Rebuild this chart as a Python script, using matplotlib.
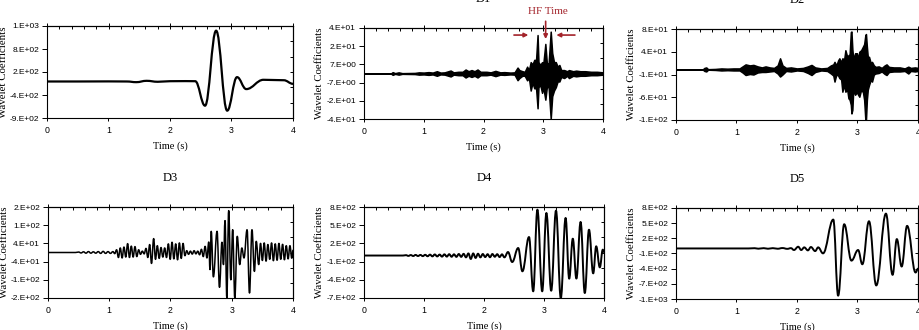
import matplotlib
matplotlib.use('Agg')
import matplotlib.pyplot as plt
from matplotlib.path import Path
from matplotlib.patches import PathPatch
from matplotlib.ticker import MultipleLocator
import numpy as np

# ---- data (time in s, coefficient in axis units) ----

# A5: turning points of the smooth approximation signal
a5_t = [0.0, 0.5, 1.0, 1.3, 1.45, 1.62, 1.8, 2.0, 2.25, 2.41, 2.57, 2.75, 2.93,
        3.09, 3.24, 3.52, 3.85, 4.0]
a5_v = [-146, -146, -144, -146, -160, -132, -152, -140, -138, -140, -646, 904, -749,
        -56, -303, -111, -120, -194]

# D1: envelope of the high frequency detail (time, upper, lower)
d1_t = [0.0, 0.45, 0.48, 0.52, 0.58, 0.64, 0.85, 0.92, 1.0, 1.08, 1.15, 1.22, 1.28,
        1.35, 1.45, 1.5, 1.58, 1.65, 1.7, 1.75, 1.8, 1.85, 1.9, 1.95, 2.05, 2.12,
        2.2, 2.28, 2.35, 2.45, 2.52, 2.57, 2.6, 2.65, 2.69, 2.73, 2.76, 2.79, 2.82,
        2.85, 2.88, 2.905, 2.92, 2.95, 2.98, 3.0, 3.035, 3.06, 3.09, 3.125, 3.15,
        3.18, 3.21, 3.24, 3.27, 3.3, 3.35, 3.4, 3.43, 3.5, 3.55, 3.62, 3.7, 3.8,
        3.9, 4.0]
d1_hi = [0, 0, 1.2, 0.3, 1, 0.3, 0.5, 1, 0.8, 1.2, 0.8, 2, 0.8,
         1, 2.6, 1, 1.5, 1.5, 3.5, 2, 3, 2, 3.5, 1.5, 1.5, 1,
         2.3, 1, 1.2, 0.8, 1, 5.2, 3, 2, 1.5, 6, 3, 10, 8,
         12, 12, 33.8, 10, 7.5, 10, 8, 26, 9, 9, 36.8, 18,
         10, 10, 6, 7.5, 3, 3, 2, 3, 2, 2.5, 2, 2, 1.5,
         1.5, 1]
d1_lo = [0, 0, -1.2, -0.3, -1, -0.3, -0.5, -1, -0.8, -1.2, -0.8, -2, -0.8,
         -1, -2.6, -1, -1.5, -1.5, -3.5, -2, -3, -2, -3.5, -1.5, -1.5, -1,
         -2.3, -1, -1.2, -0.8, -1, -5.9, -4, -2, -2, -6, -4, -15, -8,
         -13, -13, -30.6, -12, -10, -17, -12, -23, -12, -12, -40, -20,
         -15, -12, -7, -7, -3, -4, -2, -4, -2, -2.5, -2, -2, -1.5,
         -1.5, -1]

# D2: envelope of the second detail level
d2_t = [0.0, 0.44, 0.47, 0.5, 0.53, 0.65, 0.75, 0.85, 0.95, 1.05, 1.1, 1.15, 1.22,
        1.28, 1.35, 1.42, 1.48, 1.55, 1.62, 1.68, 1.72, 1.76, 1.82, 1.9, 2.0, 2.1,
        2.18, 2.24, 2.3, 2.4, 2.5, 2.56, 2.6, 2.62, 2.65, 2.68, 2.7, 2.73, 2.75,
        2.78, 2.8, 2.83, 2.85, 2.87, 2.89, 2.9, 2.915, 2.93, 2.96, 2.99, 3.01,
        3.03, 3.06, 3.09, 3.11, 3.13, 3.14, 3.155, 3.17, 3.19, 3.22, 3.24, 3.27,
        3.3, 3.35, 3.4, 3.45, 3.48, 3.52, 3.6, 3.7, 3.78, 3.84, 3.88, 3.95, 4.0]
d2_hi = [0, 0, 3, 4, 0.5, 1, 2, 1.5, 2, 2, 6, 10, 8,
         9, 6, 4, 6, 4, 3, 8, 22, 8, 3, 4, 2, 3,
         6, 9, 4, 2, 3, 8, 10, 15, 8, 18, 22, 14, 22,
         20, 38, 25, 28, 30, 74, 75, 40, 20, 32, 32, 20,
         35, 38, 45, 50, 68, 70, 45, 25, 25, 12, 15, 8,
         5, 6, 3, 8, 10, 5, 4, 4, 2, 5.5, 3, 4, 3]
d2_lo = [0, 0, -3, -4, -0.5, -1, -2, -1.5, -2, -2, -6, -11, -9,
         -10, -6, -5, -5, -4, -3, -8, -14, -10, -3, -4, -2, -3,
         -7, -11, -5, -2, -3, -8, -12, -24, -10, -12, -17, -20, -44,
         -30, -44, -40, -57, -60, -70, -87, -80, -40, -50, -45, -50,
         -54, -40, -45, -60, -100, -100, -60, -40, -31, -20, -24, -10,
         -8, -7, -4, -9, -11, -5, -4, -4, -3, -8, -3, -4, -3]

# D3: turning points
d3_t = [0.0, 0.45, 0.50, 0.54, 0.58, 0.62, 0.66, 0.70, 0.74, 0.78, 0.82, 0.86, 0.90,
        0.94, 0.98, 1.02, 1.06, 1.09,
        1.12, 1.15, 1.18, 1.21, 1.24, 1.27, 1.30, 1.33, 1.36, 1.39, 1.42, 1.45, 1.48, 1.51,
        1.54, 1.57, 1.60, 1.63, 1.66, 1.69, 1.725, 1.755, 1.785, 1.815, 1.845, 1.875,
        1.905, 1.935,
        1.965, 1.995, 2.025, 2.055, 2.085, 2.115, 2.145, 2.175, 2.205, 2.235,
        2.265, 2.295, 2.325, 2.355, 2.385, 2.415, 2.445, 2.475, 2.505,
        2.535, 2.565, 2.595, 2.625, 2.645,
        2.665, 2.70, 2.76, 2.80, 2.84, 2.865, 2.89, 2.92, 2.95, 2.985, 3.015, 3.05,
        3.09, 3.13, 3.165, 3.20, 3.25, 3.29, 3.33, 3.37, 3.40, 3.44,
        3.47, 3.50, 3.53, 3.56, 3.59, 3.62, 3.65, 3.68, 3.71, 3.74, 3.77, 3.80,
        3.83, 3.86, 3.89, 3.92, 3.95, 3.98, 4.0]
d3_v = [0, 0, 2, -2, 3, -3, 4, -3, 3, -3, 4, -4, 5,
        -4, 4, -4, 4, -5,
        12, -22, 20, -24, 24, -20, 39, -22, 28, -20, 26, -18, 12, -8,
        6, -6, 18, -22, 35, -48, 61, -30, 30, -26, 22, -20,
        20, -22,
        38, -30, 45, -28, 38, -32, 42, -26, 40, -14,
        8, -8, 6, -7, 8, -6, 6, -10, 14,
        -18, 27, -24, 46, -75,
        93, -107, 93, -153, 45, -53, 140, -200, 184, -120, 100, -200,
        71, -53, 20, -24, 100, -178, 100, -83, 49, -53,
        40, -35, 42, -38, 35, -30, 42, -36, 38, -34, 40, -30,
        36, -32, 30, -28, 30, -25, 10]

# D4: turning points
d4_t = [0.0, 0.65, 0.70, 0.74, 0.78, 0.82, 0.86, 0.90, 0.94, 0.98, 1.02, 1.06, 1.10,
        1.14, 1.18, 1.22, 1.26, 1.30, 1.34, 1.38, 1.42, 1.46, 1.50, 1.54, 1.58, 1.62,
        1.66, 1.70, 1.74, 1.78, 1.82, 1.86, 1.90, 1.94, 1.98, 2.02, 2.06, 2.10, 2.14,
        2.18, 2.22, 2.26, 2.30, 2.34,
        2.40, 2.47, 2.57, 2.64, 2.75, 2.82, 2.89, 2.97, 3.04, 3.12, 3.20, 3.28, 3.36,
        3.42, 3.48, 3.54, 3.61, 3.68, 3.75, 3.82, 3.87, 3.93, 3.98, 4.0]
d4_v = [0, 0, 6, -6, 8, -8, 10, -8, 10, -10, 12, -12, 15,
        -14, 18, -15, 16, -18, 20, -18, 22, -20, 20, -22, 25, -22,
        28, -30, 35, -57, 35, -40, 30, -30, 25, -25, 22, -28, 25,
        -20, 22, -25, 20, -30,
        58, -107, 124, -260, 305, -590, 756, -590, 701, -580, 740, -700, 619,
        -381, 278, -380, 553, -618, 426, -294, 152, -195, 97, 58]

# D5: turning points
d5_t = [0.0, 1.2, 1.3, 1.36, 1.45, 1.52, 1.6, 1.68, 1.76, 1.84, 1.90, 1.95, 2.02,
        2.07, 2.12, 2.18, 2.23, 2.30, 2.35, 2.43, 2.60, 2.68, 2.78, 2.90, 3.01,
        3.08, 3.19, 3.31, 3.47, 3.58, 3.65, 3.73, 3.82, 3.96, 4.0]
d5_v = [0, 0, 5, -5, 6, -6, 6, -6, 8, -8, 6, -31, 34,
        -31, 21, -38, 28, -52, 21, -97, 571, -934, 479, -241, -31,
        -313, 538, -732, 689, -522, 185, -358, 447, -476, -400]

titles = ['A5', 'D1', 'D2', 'D3', 'D4', 'D5']
ylims = [(-900, 1000), (-40, 40), (-100, 80), (-200, 200), (-700, 800), (-1000, 800)]
ytick_labels = [
    ['-9.E+02', '-4.E+02', '2.E+02', '8.E+02', '1.E+03'],
    ['-4.E+01', '-2.E+01', '-7.E+00', '7.E+00', '2.E+01', '4.E+01'],
    ['-1.E+02', '-6.E+01', '-1.E+01', '4.E+01', '8.E+01'],
    ['-2.E+02', '-1.E+02', '-4.E+01', '4.E+01', '1.E+02', '2.E+02'],
    ['-7.E+02', '-4.E+02', '-1.E+02', '2.E+02', '5.E+02', '8.E+02'],
    ['-1.E+03', '-7.E+02', '-4.E+02', '-1.E+02', '2.E+02', '5.E+02', '8.E+02'],
]
xticks = [0, 1, 2, 3, 4]

# axes boxes in pixels (left, top, right, bottom) of the 920x330 figure
boxes_px = [(47, 26, 293, 118), (364, 28, 603, 119), (676, 29, 918, 120),
            (48, 207, 293, 298), (364, 207, 604, 298), (676, 208, 918, 299)]

W, H = 920, 330
SERIF = 'Liberation Serif'
SANS = 'Liberation Sans'
HF_RED = '#a3232a'


def smooth_line(ax, t, v, lw):
    # cubic segments with flat tangents at each turning point
    verts = [(t[0], v[0])]
    codes = [Path.MOVETO]
    for i in range(1, len(t)):
        dt = t[i] - t[i - 1]
        verts += [(t[i - 1] + 0.4 * dt, v[i - 1]), (t[i] - 0.4 * dt, v[i]), (t[i], v[i])]
        codes += [Path.CURVE4] * 3
    ax.add_patch(PathPatch(Path(verts, codes), fill=False, lw=lw, ec='black',
                           joinstyle='round', capstyle='round'))


fig = plt.figure(figsize=(W / 100, H / 100), dpi=100)
axes = []
for (l, t, r, b) in boxes_px:
    axes.append(fig.add_axes([l / W, 1 - b / H, (r - l) / W, (b - t) / H]))

for i, ax in enumerate(axes):
    lo, hi = ylims[i]
    l, t, r, b = boxes_px[i]
    wpx, hpx = r - l, b - t
    ax.set_xlim(0, 4)
    ax.set_ylim(lo, hi)

    labels = ytick_labels[i]
    ax.set_yticks(np.linspace(lo, hi, len(labels)))
    ax.set_yticklabels(labels)
    ax.set_xticks(xticks)
    ax.set_xticklabels([str(x) for x in xticks])
    ax.tick_params(axis='y', direction='out', length=3.5, width=0.7, pad=2.2,
                   labelsize=6)
    ax.tick_params(axis='x', direction='out', length=2, width=0.7, pad=4,
                   labelsize=6.3)
    for lab in ax.get_xticklabels() + ax.get_yticklabels():
        lab.set_fontfamily(SANS)

    secx = ax.secondary_xaxis('top')
    secx.set_xticks(xticks)
    secx.xaxis.set_minor_locator(MultipleLocator(0.2))
    secx.tick_params(which='major', direction='inout', length=5, width=0.7,
                     labeltop=False)
    secx.tick_params(which='minor', direction='in', length=2.5, width=0.7)

    secy = ax.secondary_yaxis('right')
    secy.set_yticks(np.linspace(lo, hi, 7)[1:-1])
    secy.tick_params(direction='in', length=2.5, width=0.7, labelright=False,
                     labelleft=False)

    for side in ['left', 'right', 'top', 'bottom']:
        ax.spines[side].set_linewidth(0.8)
    for s in [secx, secy]:
        for sp in s.spines.values():
            sp.set_linewidth(0.8)

    ax.text(0.5, 1 + 29 / hpx, titles[i], transform=ax.transAxes, ha='center',
            va='center', fontsize=9, fontfamily=SERIF)
    ax.text(0.5, -28 / hpx, 'Time (s)', transform=ax.transAxes, ha='center',
            va='center', fontsize=7.5, fontfamily=SERIF)
    ax.text(-44 / wpx, 0.5, 'Wavelet Coefficients', transform=ax.transAxes,
            ha='center', va='center', rotation=90, fontsize=7.8, fontfamily=SERIF)

# signals
smooth_line(axes[0], a5_t, a5_v, 1.6)
axes[1].fill_between(d1_t, d1_lo, d1_hi, color='black', lw=1.1)
axes[2].fill_between(d2_t, d2_lo, d2_hi, color='black', lw=1.1)
smooth_line(axes[3], d3_t, d3_v, 1.1)
smooth_line(axes[4], d4_t, d4_v, 1.4)
smooth_line(axes[5], d5_t, d5_v, 1.4)

# HF time marker on D1
ax = axes[1]
arrow = dict(arrowstyle='-|>', color=HF_RED, lw=1.2, mutation_scale=6,
             shrinkA=0, shrinkB=0)
ax.annotate('', xy=(2.75, 33.8), xytext=(2.51, 33.8), arrowprops=arrow,
            annotation_clip=False)
ax.annotate('', xy=(3.22, 33.8), xytext=(3.53, 33.8), arrowprops=arrow,
            annotation_clip=False)
ax.annotate('', xy=(3.04, 30.3), xytext=(3.04, 45.9), arrowprops=arrow,
            annotation_clip=False)
ax.text(3.08, 54.5, 'HF Time', ha='center', va='center', color=HF_RED,
        fontsize=8, fontfamily=SERIF)

fig.savefig('out.png', dpi=100)
